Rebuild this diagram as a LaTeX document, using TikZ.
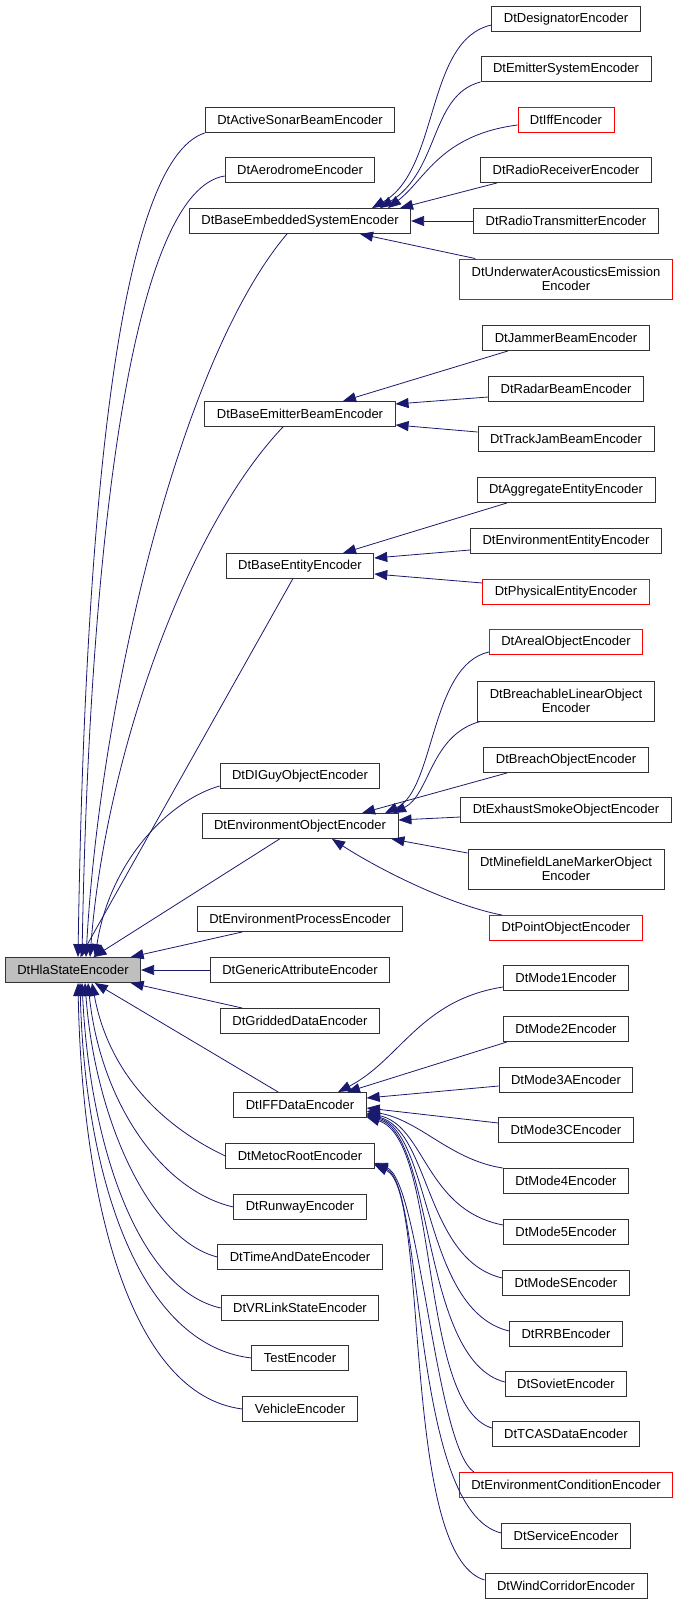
\documentclass[tikz,border=0pt]{standalone}
\usepackage{fontspec}
\setmainfont{Liberation Sans}
\usetikzlibrary{arrows.meta}
\definecolor{edgeblue}{HTML}{191970}
\definecolor{basegray}{HTML}{BFBFBF}

\begin{document}
\begin{tikzpicture}[
    x=1pt,y=-1pt,
    box/.style = { draw=black!80,line width=0.9pt,minimum height=25pt,inner xsep=12pt,inner ysep=0pt,align=center,font=\fontsize{13}{14.5}\selectfont },
    redbox/.style = { box,draw=red },
    twoline/.style = { minimum height=40pt },
    arrowstyle/.style = { <-,>={Triangle[length=13pt,width=10pt]},draw=edgeblue,line width=0.8pt }
    ]
    \useasboundingbox (0,0) rectangle (680,1605);
    % Definitions
    \coordinate (hls) at ( 73, 970);
    \coordinate (asb) at (300, 120);
    \coordinate (aer) at (300, 170);
    \coordinate (bes) at (300, 221);
    \coordinate (beb) at (300, 414);
    \coordinate (ben) at (300, 566);
    \coordinate (dig) at (300, 776);
    \coordinate (eob) at (300, 826);
    \coordinate (epr) at (300, 919);
    \coordinate (gat) at (300, 970);
    \coordinate (gdd) at (300,1021);
    \coordinate (ifd) at (300,1105);
    \coordinate (mrt) at (300,1156);
    \coordinate (rwy) at (300,1207);
    \coordinate (tad) at (300,1257);
    \coordinate (vrl) at (300,1308);
    \coordinate (tst) at (300,1358);
    \coordinate (veh) at (300,1409);
    \coordinate (dsg) at (566,  19);
    \coordinate (ems) at (566,  69);
    \coordinate (ife) at (566, 120);
    \coordinate (rrc) at (566, 170);
    \coordinate (rtr) at (566, 221);
    \coordinate (uae) at (566, 279);
    \coordinate (jmb) at (566, 338);
    \coordinate (rdb) at (566, 389);
    \coordinate (tjb) at (566, 439);
    \coordinate (age) at (566, 490);
    \coordinate (ene) at (566, 541);
    \coordinate (phe) at (566, 592);
    \coordinate (aro) at (566, 642);
    \coordinate (blo) at (566, 701);
    \coordinate (bro) at (566, 760);
    \coordinate (eso) at (566, 810);
    \coordinate (mlm) at (566, 869);
    \coordinate (pto) at (566, 928);
    \coordinate (md1) at (566, 978);
    \coordinate (md2) at (566,1029);
    \coordinate (m3a) at (566,1080);
    \coordinate (m3c) at (566,1130);
    \coordinate (md4) at (566,1181);
    \coordinate (md5) at (566,1232);
    \coordinate (mds) at (566,1283);
    \coordinate (rrb) at (566,1334);
    \coordinate (sov) at (566,1384);
    \coordinate (tca) at (566,1434);
    \coordinate (eco) at (566,1485);
    \coordinate (ser) at (566,1536);
    \coordinate (wco) at (566,1586);
    % Nodes
    \node(HS)  at (hls) [box,fill=basegray] {DtHlaStateEncoder};
    \node(AS)  at (asb) [box]               {DtActiveSonarBeamEncoder};
    \node(AE)  at (aer) [box]               {DtAerodromeEncoder};
    \node(BS)  at (bes) [box]               {DtBaseEmbeddedSystemEncoder};
    \node(BB)  at (beb) [box]               {DtBaseEmitterBeamEncoder};
    \node(BE)  at (ben) [box]               {DtBaseEntityEncoder};
    \node(DG)  at (dig) [box]               {DtDIGuyObjectEncoder};
    \node(EO)  at (eob) [box]               {DtEnvironmentObjectEncoder};
    \node(EP)  at (epr) [box]               {DtEnvironmentProcessEncoder};
    \node(GA)  at (gat) [box]               {DtGenericAttributeEncoder};
    \node(GD)  at (gdd) [box]               {DtGriddedDataEncoder};
    \node(IF)  at (ifd) [box]               {DtIFFDataEncoder};
    \node(MR)  at (mrt) [box]               {DtMetocRootEncoder};
    \node(RW)  at (rwy) [box]               {DtRunwayEncoder};
    \node(TD)  at (tad) [box]               {DtTimeAndDateEncoder};
    \node(VR)  at (vrl) [box]               {DtVRLinkStateEncoder};
    \node(TE)  at (tst) [box]               {TestEncoder};
    \node(VE)  at (veh) [box]               {VehicleEncoder};
    \node(DS)  at (dsg) [box]               {DtDesignatorEncoder};
    \node(ES)  at (ems) [box]               {DtEmitterSystemEncoder};
    \node(IE)  at (ife) [redbox]            {DtIffEncoder};
    \node(RR)  at (rrc) [box]               {DtRadioReceiverEncoder};
    \node(RT)  at (rtr) [box]               {DtRadioTransmitterEncoder};
    \node(UA)  at (uae) [redbox,twoline]    {DtUnderwaterAcousticsEmission\\Encoder};
    \node(JB)  at (jmb) [box]               {DtJammerBeamEncoder};
    \node(RB)  at (rdb) [box]               {DtRadarBeamEncoder};
    \node(TJ)  at (tjb) [box]               {DtTrackJamBeamEncoder};
    \node(AG)  at (age) [box]               {DtAggregateEntityEncoder};
    \node(EE)  at (ene) [box]               {DtEnvironmentEntityEncoder};
    \node(PE)  at (phe) [redbox]            {DtPhysicalEntityEncoder};
    \node(AO)  at (aro) [redbox]            {DtArealObjectEncoder};
    \node(BL)  at (blo) [box,twoline]       {DtBreachableLinearObject\\Encoder};
    \node(BO)  at (bro) [box]               {DtBreachObjectEncoder};
    \node(SO)  at (eso) [box]               {DtExhaustSmokeObjectEncoder};
    \node(ML)  at (mlm) [box,twoline]       {DtMinefieldLaneMarkerObject\\Encoder};
    \node(PO)  at (pto) [redbox]            {DtPointObjectEncoder};
    \node(M1)  at (md1) [box]               {DtMode1Encoder};
    \node(M2)  at (md2) [box]               {DtMode2Encoder};
    \node(M3A) at (m3a) [box]               {DtMode3AEncoder};
    \node(M3C) at (m3c) [box]               {DtMode3CEncoder};
    \node(M4)  at (md4) [box]               {DtMode4Encoder};
    \node(M5)  at (md5) [box]               {DtMode5Encoder};
    \node(MS)  at (mds) [box]               {DtModeSEncoder};
    \node(RRB) at (rrb) [box]               {DtRRBEncoder};
    \node(SV)  at (sov) [box]               {DtSovietEncoder};
    \node(TC)  at (tca) [box]               {DtTCASDataEncoder};
    \node(EC)  at (eco) [redbox]            {DtEnvironmentConditionEncoder};
    \node(SE)  at (ser) [box]               {DtServiceEncoder};
    \node(WC)  at (wco) [box]               {DtWindCorridorEncoder};
    % Arrows into DtHlaStateEncoder
    \draw[arrowstyle] ([xshift=5]HS.north)  .. controls (85,500) and (120,160)   .. (AS.south west);
    \draw[arrowstyle] ([xshift=9]HS.north)  .. controls (90,520) and (135,190)   .. ([yshift=-6]AE.west);
    \draw[arrowstyle] ([xshift=13]HS.north) .. controls (100,700) and (180,360)  .. ([xshift=-13]BS.south);
    \draw[arrowstyle] ([xshift=17]HS.north) .. controls (105,760) and (185,530)  .. ([xshift=-17]BB.south);
    \draw[arrowstyle] (HS) -- (BE);
    \draw[arrowstyle] ([xshift=22]HS.north) .. controls (110,860) and (170,800)  .. ([yshift=-10]DG.west);
    \draw[arrowstyle] (HS) -- (EO);
    \draw[arrowstyle] (HS) -- (EP);
    \draw[arrowstyle] (HS) -- (GA);
    \draw[arrowstyle] (HS) -- (GD);
    \draw[arrowstyle] (HS) -- (IF);
    \draw[arrowstyle] ([xshift=19]HS.south) .. controls (110,1080) and (170,1130) .. (MR.west);
    \draw[arrowstyle] ([xshift=15]HS.south) .. controls (100,1100) and (160,1190) .. (RW.west);
    \draw[arrowstyle] ([xshift=12]HS.south) .. controls (95,1120) and (150,1240)  .. (TD.west);
    \draw[arrowstyle] ([xshift=9]HS.south)  .. controls (90,1150) and (140,1290)  .. (VR.west);
    \draw[arrowstyle] ([xshift=7]HS.south)  .. controls (85,1180) and (140,1345)  .. (TE.west);
    \draw[arrowstyle] ([xshift=5]HS.south)  .. controls (82,1200) and (130,1395)  .. (VE.west);
    % Arrows into DtBaseEmbeddedSystemEncoder
    \draw[arrowstyle] ([xshift=72]BS.north) .. controls (440,170) and (425,40)   .. ([yshift=-6]DS.west);
    \draw[arrowstyle] ([xshift=80]BS.north) .. controls (440,170) and (430,95)   .. (ES.south west);
    \draw[arrowstyle] ([xshift=88]BS.north) .. controls (425,180) and (440,135)  .. ([yshift=-5]IE.west);
    \draw[arrowstyle] ([xshift=100]BS.north) -- ([xshift=-69]RR.south);
    \draw[arrowstyle] (BS) -- (RT);
    \draw[arrowstyle] ([xshift=60]BS.south) -- ([xshift=16]UA.north west);
    % Arrows into DtBaseEmitterBeamEncoder
    \draw[arrowstyle] ([xshift=43]BB.north) -- ([xshift=-58]JB.south);
    \draw[arrowstyle] ([yshift=10]BB.east)  -- ([yshift=-8]RB.west);
    \draw[arrowstyle] ([yshift=-11]BB.east) -- ([yshift=7]TJ.west);
    % Arrows into DtBaseEntityEncoder
    \draw[arrowstyle] ([xshift=43]BE.north) -- ([xshift=-59]AG.south);
    \draw[arrowstyle] ([yshift=8]BE.east)   -- ([yshift=-9]EE.west);
    \draw[arrowstyle] ([yshift=-8]BE.east)  -- ([yshift=9]PE.west);
    % Arrows into DtEnvironmentObjectEncoder
    \draw[arrowstyle] ([xshift=85]EO.north) .. controls (435,790) and (430,665)  .. ([yshift=-10]AO.west);
    \draw[arrowstyle] ([xshift=93]EO.north) .. controls (430,795) and (430,735)  .. ([xshift=3]BL.south west);
    \draw[arrowstyle] ([xshift=62]EO.north) -- ([xshift=-59]BO.south);
    \draw[arrowstyle] ([yshift=6]EO.east)   -- ([yshift=-7]SO.west);
    \draw[arrowstyle] ([xshift=-7]EO.south east) -- ([yshift=16]ML.west);
    \draw[arrowstyle] ([xshift=32]EO.south) .. controls (380,870) and (450,905)  .. ([xshift=-64]PO.north);
    % Arrows into DtIFFDataEncoder
    \draw[arrowstyle] ([xshift=38]IF.north) .. controls (400,1060) and (420,1000) .. ([yshift=-9]M1.west);
    \draw[arrowstyle] ([xshift=47]IF.north) -- ([xshift=-59]M2.south);
    \draw[arrowstyle] ([yshift=7]IF.east)   -- ([yshift=-6]M3A.west);
    \draw[arrowstyle] ([yshift=-3]IF.east)  -- ([yshift=7]M3C.west);
    \draw[arrowstyle] ([yshift=-6]IF.east)  .. controls (420,1120) and (450,1160) .. (M4.north west);
    \draw[arrowstyle] ([yshift=-8]IF.east)  .. controls (425,1125) and (425,1210) .. ([yshift=7]M5.west);
    \draw[arrowstyle] ([yshift=-9]IF.east)  .. controls (430,1130) and (425,1260) .. ([yshift=5]MS.west);
    \draw[arrowstyle] ([yshift=-10]IF.east) .. controls (432,1132) and (422,1310) .. ([yshift=3]RRB.west);
    \draw[arrowstyle] ([yshift=-11]IF.east) .. controls (435,1135) and (420,1360) .. ([yshift=2]SV.west);
    \draw[arrowstyle] ([yshift=-12]IF.east) .. controls (440,1140) and (418,1405) .. ([yshift=6]TC.west);
    % Arrows into DtMetocRootEncoder
    \draw[arrowstyle] ([yshift=-7]MR.east)  .. controls (420,1180) and (435,1445) .. ([xshift=15]EC.north west);
    \draw[arrowstyle] ([yshift=-8]MR.east)  .. controls (425,1185) and (410,1510) .. ([yshift=3]SE.west);
    \draw[arrowstyle] ([yshift=-9]MR.east)  .. controls (430,1190) and (400,1555) .. ([yshift=6]WC.west);
\end{tikzpicture}
\end{document}
